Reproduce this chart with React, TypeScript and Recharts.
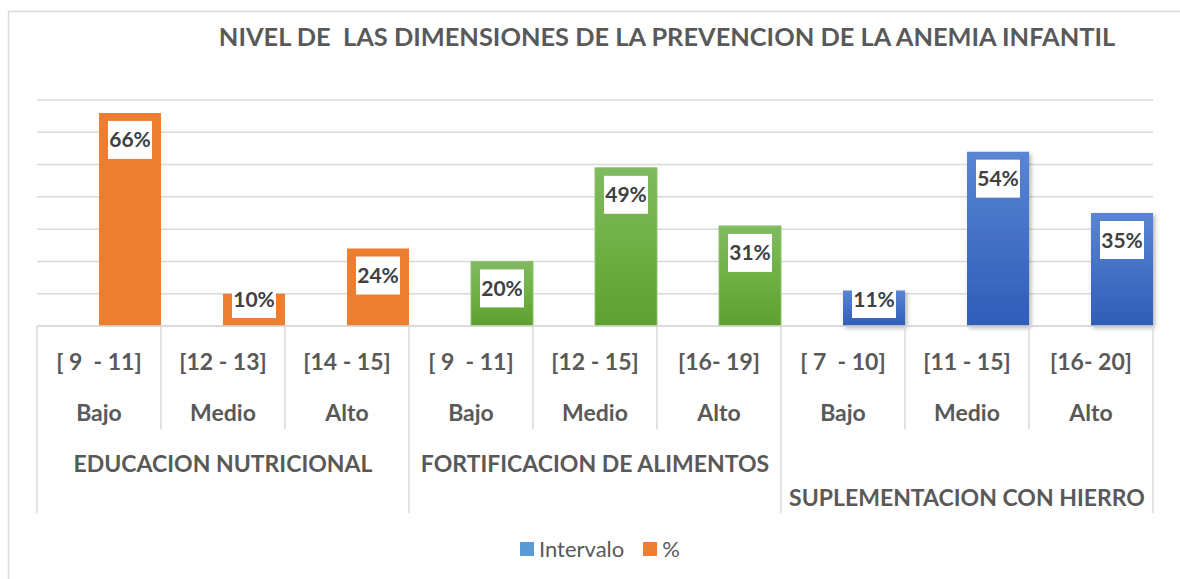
import React from 'react';
import { BarChart, Bar, XAxis, YAxis, CartesianGrid, Cell, LabelList, Legend } from 'recharts';

const TITLE = 'NIVEL DE  LAS DIMENSIONES DE LA PREVENCION DE LA ANEMIA INFANTIL';
const categoryIds = ['EN-Bajo', 'EN-Medio', 'EN-Alto', 'FA-Bajo', 'FA-Medio', 'FA-Alto', 'SH-Bajo', 'SH-Medio', 'SH-Alto'];
const intervalLabels = ['[ 9  - 11]', '[12 - 13]', '[14 - 15]', '[ 9  - 11]', '[12 - 15]', '[16- 19]', '[ 7  - 10]', '[11 - 15]', '[16- 20]'];
const levelLabels = ['Bajo', 'Medio', 'Alto', 'Bajo', 'Medio', 'Alto', 'Bajo', 'Medio', 'Alto'];
const groupLabels = ['EDUCACION NUTRICIONAL', 'FORTIFICACION DE ALIMENTOS', 'SUPLEMENTACION CON HIERRO'];
const groupOfCategory = [0, 0, 0, 1, 1, 1, 2, 2, 2];
const percentValues = [0.66, 0.10, 0.24, 0.20, 0.49, 0.31, 0.11, 0.54, 0.35];
const intervaloValues = [null, null, null, null, null, null, null, null, null];
const yTicks = [0, 0.1, 0.2, 0.3, 0.4, 0.5, 0.6, 0.7];
const seriesOrder = ['Intervalo', '%'];

const groupFills = ['#ED7D31', 'url(#gradGreen)', 'url(#gradBlue)'];

const W = 1180;
const H = 579;
const MARGIN = { top: 100, right: 27, bottom: 53, left: 37 };
const AXIS_H = 200;
const BAND = (W - MARGIN.left - MARGIN.right) / categoryIds.length;
const FONT = 'Lato, "Open Sans", sans-serif';
const GRID = '#D9D9D9';
const TEXT = '#595959';

const data = categoryIds.map((id, i) => ({
  id,
  interval: intervalLabels[i],
  level: levelLabels[i],
  group: groupOfCategory[i],
  pct: percentValues[i],
  intervalo: intervaloValues[i],
}));

const AxisTick = (props: any) => {
  const { x, y, payload } = props;
  const i: number = props.index ?? payload.index;
  const half = typeof payload?.offset === 'number' && payload.offset > 0 ? payload.offset : BAND / 2;
  const row = data[i];
  if (!row) return null;
  const leftX = x - half;
  const rightX = x + half;
  const isGroupStart = i % 3 === 0;
  const isGroupMid = i % 3 === 1;
  const isLast = i === data.length - 1;
  const textStyle: any = { whiteSpace: 'pre' };
  return (
    <g>
      <line x1={leftX} x2={leftX} y1={y} y2={isGroupStart ? y + 187 : y + 103} stroke={GRID} strokeWidth={1.5} />
      {isLast && <line x1={rightX} x2={rightX} y1={y} y2={y + 187} stroke={GRID} strokeWidth={1.5} />}
      <text x={x} y={y + 43.5} textAnchor="middle" fontFamily={FONT} fontWeight={700} fontSize={23} fill={TEXT} style={textStyle}>
        {row.interval}
      </text>
      <text x={x} y={y + 94.5} textAnchor="middle" fontFamily={FONT} fontWeight={700} fontSize={23} fill={TEXT}>
        {row.level}
      </text>
      {isGroupMid && (
        <text x={x} y={row.group === 2 ? y + 179.5 : y + 146} textAnchor="middle" fontFamily={FONT} fontWeight={700} fontSize={23} fill={TEXT}>
          {groupLabels[row.group]}
        </text>
      )}
    </g>
  );
};

const ValueLabel = (props: any) => {
  const { x, y, width, height, value } = props;
  if (value == null) return null;
  const cx = x + width / 2;
  const cy = Math.min(y + 27, y + height - 27);
  return (
    <g>
      <rect x={cx - 22} y={cy - 19} width={44} height={38} fill="#FFFFFF" />
      <text x={cx} y={cy + 7.5} textAnchor="middle" fontFamily={FONT} fontWeight={700} fontSize={21} fill="#404040">
        {Math.round(value * 100)}%
      </text>
    </g>
  );
};

const LegendContent = (props: any) => {
  const payload = [...(props.payload || [])].sort(
    (a: any, b: any) => seriesOrder.indexOf(a.value) - seriesOrder.indexOf(b.value)
  );
  return (
    <div style={{ display: 'flex', alignItems: 'center', fontFamily: FONT, fontSize: 22, color: TEXT, lineHeight: '22px', whiteSpace: 'nowrap' }}>
      {payload.map((p: any, i: number) => (
        <div key={i} style={{ display: 'flex', alignItems: 'center', marginRight: 19 }}>
          <span style={{ display: 'inline-block', width: 14, height: 14, background: p.color, marginRight: 5 }} />
          <span>{p.value}</span>
        </div>
      ))}
    </div>
  );
};

export default function App() {
  return (
    <div style={{ position: 'absolute', left: 0, top: 0, width: W, height: H, background: '#FFFFFF' }}>
      <BarChart width={W} height={H} data={data} margin={MARGIN} barCategoryGap={0} barGap={0}>
        <defs>
          <linearGradient id="gradGreen" x1="0" y1="0" x2="0" y2="1">
            <stop offset="0%" stopColor="#80BA60" />
            <stop offset="50%" stopColor="#6FB044" />
            <stop offset="100%" stopColor="#5E9F30" />
          </linearGradient>
          <linearGradient id="gradBlue" x1="0" y1="0" x2="0" y2="1">
            <stop offset="0%" stopColor="#5A85D3" />
            <stop offset="100%" stopColor="#2E5DB8" />
          </linearGradient>
          <filter id="barShadow" x="-20%" y="-20%" width="140%" height="140%">
            <feDropShadow dx="2" dy="2" stdDeviation="2" floodColor="#000000" floodOpacity="0.3" />
          </filter>
        </defs>
        <CartesianGrid vertical={false} stroke={GRID} strokeWidth={1.5} />
        <YAxis hide domain={[0, 0.7]} ticks={yTicks} />
        <XAxis
          dataKey="id"
          height={AXIS_H}
          interval={0}
          tickLine={false}
          tickSize={0}
          tickMargin={0}
          axisLine={{ stroke: GRID, strokeWidth: 1.5 }}
          tick={<AxisTick />}
        />
        <Bar dataKey="intervalo" name="Intervalo" fill="#5B9BD5" isAnimationActive={false} />
        <Bar dataKey="pct" name="%" fill="#ED7D31" isAnimationActive={false}>
          {data.map((d, i) => (
            <Cell
              key={i}
              fill={groupFills[d.group]}
              stroke={d.group === 1 ? '#8CC26C' : 'none'}
              strokeWidth={d.group === 1 ? 1 : 0}
              filter={d.group === 2 ? 'url(#barShadow)' : undefined}
            />
          ))}
          <LabelList dataKey="pct" content={<ValueLabel />} />
        </Bar>
        <Legend
          verticalAlign="middle"
          align="center"
          layout="horizontal"
          content={<LegendContent />}
          wrapperStyle={{ top: 538, left: 520, width: 'auto', height: 'auto' }}
        />
      </BarChart>
      <svg width={W} height={H} style={{ position: 'absolute', left: 0, top: 0, pointerEvents: 'none' }}>
        <line x1={8.5} x2={8.5} y1={11} y2={H} stroke={GRID} strokeWidth={1.5} />
        <line x1={8} x2={W} y1={11.5} y2={11.5} stroke={GRID} strokeWidth={1.5} />
        <text x={667} y={46} textAnchor="middle" fontFamily={FONT} fontWeight={700} fontSize={25.4} fill={TEXT} style={{ whiteSpace: 'pre' }}>
          {TITLE}
        </text>
      </svg>
    </div>
  );
}
